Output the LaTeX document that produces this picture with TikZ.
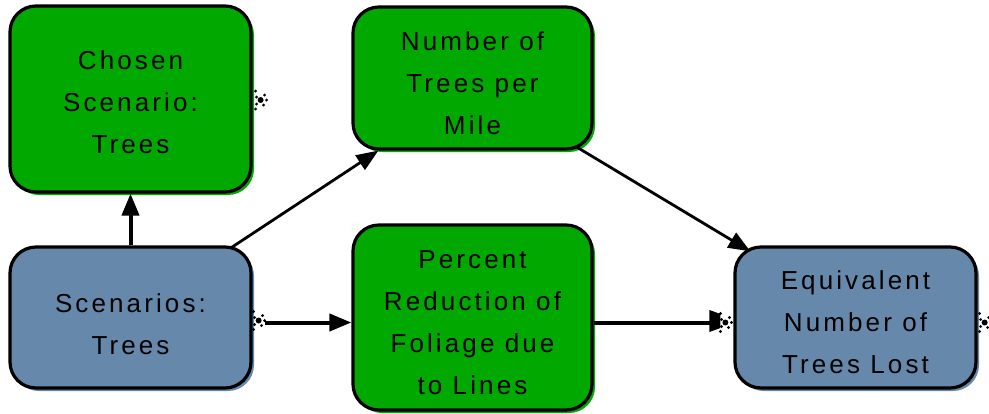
\documentclass[tikz,border=0pt]{standalone}
\usepackage{fontspec}
\setmainfont{Liberation Sans}[LetterSpace=12]
\usetikzlibrary{arrows.meta,shadows,calc}
\definecolor{boxgreen}{RGB}{0,168,0}
\definecolor{boxblue}{RGB}{102,136,170}
\tikzset{
  box/.style={draw=black, line width=3.2pt, rounded corners=26pt, inner sep=0pt,
    fill=#1, drop shadow={shadow xshift=3pt, shadow yshift=-3pt, opacity=1, fill=#1}},
  lbl/.style={align=center, font=\fontsize{26}{42}\selectfont, inner sep=0pt},
  thickarrow/.style={line width=4pt, -{Triangle[length=22pt,width=17pt]}},
  thinarrow/.style={line width=2.8pt, -{Triangle[length=22pt,width=17pt]}},
  cloudmark/.pic={
    \fill (0,0) circle (3pt);
    \foreach \p in {(-5,-9),(-4,-3),(-4,4),(4,-5),(6,0),(3,5),(-5,9)} \fill \p circle (1.6pt);
  }
}
\begin{document}
\begin{tikzpicture}[x=1pt,y=-1pt]
\useasboundingbox (0,0) rectangle (989,413);
% boxes
\node[box=boxgreen, minimum width=241pt, minimum height=186pt] (chosen) at (130.5,99) {};
\node[box=boxgreen, minimum width=239pt, minimum height=142pt] (num) at (472.5,78) {};
\node[box=boxblue, minimum width=241pt, minimum height=141pt] (scen) at (130.5,317.5) {};
\node[box=boxgreen, minimum width=239pt, minimum height=185pt] (pct) at (472.5,317.5) {};
\node[box=boxblue, minimum width=241pt, minimum height=141pt] (equiv) at (855.5,317.5) {};
% labels
\node[lbl] (chosent) at (130.5,102.5) {Chosen\\Scenario:\\Trees};
\node[lbl] (numt) at (472.5,83) {Number of\\Trees per\\Mile};
\node[lbl] (scent) at (130.5,324) {Scenarios:\\Trees};
\node[lbl] (pctt) at (472.5,323) {Percent\\Reduction of\\Foliage due\\to Lines};
\node[lbl] (equivt) at (855.5,322.5) {Equivalent\\Number of\\Trees Lost};
% cloud marks
\path ($(chosen.east)+(8,1)$) pic {cloudmark};
\path ($(scen.east)+(6,3)$) pic {cloudmark};
\path ($(equiv.west)+(-8,5)$) pic {cloudmark};
\path ($(equiv.east)+(7,5)$) pic {cloudmark};
% connectors
\draw[thickarrow] (scen.north) -- (chosen.south);
\draw[thinarrow] ($(scen.north east)+(-21,2)$) -- ($(num.south west)+(27,0)$);
\draw[thinarrow] ($(num.south east)+(-16,-3)$) -- ($(equiv.north west)+(17,6)$);
\draw[thickarrow] ($(scen.east)+(12,5)$) -- ($(pct.west)+(0,5)$);
\draw[line width=4pt] ($(pct.east)+(0,5)$) -- ($(equiv.west)+(-23,5)$);
\fill ($(equiv.west)+(-24,-7.5)$) -- ($(equiv.west)+(-13,-3.5)$) -- ($(equiv.west)+(-13,10.5)$) -- ($(equiv.west)+(-24,14.5)$) -- cycle;
\end{tikzpicture}
\end{document}
